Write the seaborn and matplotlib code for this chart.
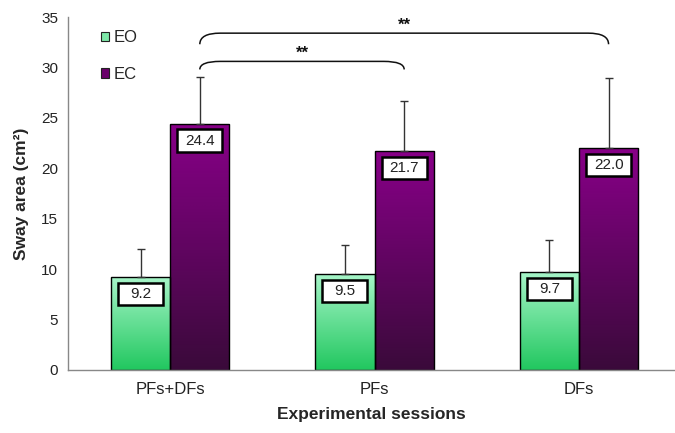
import numpy as np
import pandas as pd
import matplotlib
matplotlib.use("Agg")
import matplotlib.pyplot as plt
import seaborn as sns
from matplotlib.patches import Patch, Rectangle, PathPatch
from matplotlib.path import Path
from matplotlib.colors import LinearSegmentedColormap

# Data
sessions = ["PFs+DFs", "PFs", "DFs"]
conditions = ["EO", "EC"]
eo_means = [9.2, 9.5, 9.7]
ec_means = [24.4, 21.7, 22.0]
eo_sd = [2.8, 2.9, 3.2]
ec_sd = [4.7, 5.0, 7.0]

df = pd.DataFrame({
    "session": sessions * 2,
    "condition": ["EO"] * 3 + ["EC"] * 3,
    "area": eo_means + ec_means,
})

sns.set_style("white")
plt.rcParams["font.family"] = ["Liberation Sans", "DejaVu Sans"]

fig = plt.figure(figsize=(6.75, 4.33), dpi=100)
ax = fig.add_axes([0.1007, 0.1455, 0.8993, 0.8152])

sns.barplot(data=df, x="session", y="area", hue="condition", order=sessions,
            hue_order=conditions, width=0.58, errorbar=None, ax=ax,
            palette=["#7de8a8", "#6a006a"], edgecolor="black", linewidth=1.0,
            legend=False)

# gradient colours per condition (bottom -> top)
grads = {
    "EO": LinearSegmentedColormap.from_list("eo", ["#21c75f", "#a6f5c8"]),
    "EC": LinearSegmentedColormap.from_list("ec", ["#3a0a3a", "#880088"]),
}
grad = np.linspace(0, 1, 256).reshape(-1, 1)

bars = ax.patches[:6]
means = eo_means + ec_means
sds = eo_sd + ec_sd
conds = ["EO"] * 3 + ["EC"] * 3
box_w, box_h = 0.22, 2.2
for bar, m, sd, c in zip(bars, means, sds, conds):
    x0 = bar.get_x()
    w = bar.get_width()
    h = bar.get_height()
    im = ax.imshow(grad, cmap=grads[c], aspect="auto", origin="lower",
                   extent=[x0, x0 + w, 0, h], zorder=bar.get_zorder() - 0.1)
    im.set_clip_path(bar)
    bar.set_facecolor("none")
    xc = x0 + w / 2
    ax.errorbar(xc, h, yerr=[[0], [sd]], fmt="none", ecolor="#333333",
                elinewidth=1.0, capsize=3, capthick=1.0, zorder=1)
    # value box
    top = h - 0.55
    ax.add_patch(Rectangle((xc - box_w / 2, top - box_h), box_w, box_h,
                           fc="white", ec="black", lw=1.8, zorder=5))
    ax.text(xc, top - box_h / 2, f"{m:.1f}", ha="center", va="center",
            fontsize=11, color="#222222", zorder=6)

ax.set_xlim(-0.5, 2.47)
ax.set_ylim(0, 35)
ax.set_yticks(range(0, 36, 5))
ax.tick_params(axis="y", direction="out", length=4, color="#888888", labelsize=11,
               labelcolor="#222222", pad=3)
ax.tick_params(axis="x", length=0, labelsize=12, labelcolor="#222222", pad=9)
for side in ["top", "right"]:
    ax.spines[side].set_visible(False)
for side in ["left", "bottom"]:
    ax.spines[side].set_color("#888888")
    ax.spines[side].set_linewidth(1.0)

ax.set_xlabel("Experimental sessions", fontsize=12.5, fontweight="bold", labelpad=7)
ax.set_ylabel("Sway area (cm²)", fontsize=12.5, fontweight="bold", labelpad=9)

# significance brackets
def bracket(x1, x2, y, drop, label, lx):
    dx = 0.1
    verts = [(x1, y - drop), (x1, y), (x1 + dx, y), (x2 - dx, y),
             (x2, y), (x2, y - drop)]
    codes = [Path.MOVETO, Path.CURVE3, Path.CURVE3, Path.LINETO,
             Path.CURVE3, Path.CURVE3]
    ax.add_patch(PathPatch(Path(verts, codes), fill=False, lw=1.1, color="#111111"))
    ax.text(lx, y + 0.05, label, ha="center", va="bottom", fontsize=12,
            fontweight="bold", color="#111111")

ec_x = [b.get_x() + b.get_width() / 2 for b in bars[3:]]
bracket(ec_x[0], ec_x[1], 30.6, 0.8, "**", (ec_x[0] + ec_x[1]) / 2)
bracket(ec_x[0], ec_x[2], 33.4, 1.1, "**", (ec_x[0] + ec_x[2]) / 2)

handles = [Patch(facecolor="#7de8a8", edgecolor="#222222", lw=0.8),
           Patch(facecolor="#6a006a", edgecolor="#222222", lw=0.8)]
ax.legend(handles, conditions, loc="upper left", bbox_to_anchor=(0.035, 0.995),
          frameon=False, handlelength=0.5, handleheight=0.5, handletextpad=0.25,
          labelspacing=1.3, fontsize=12, borderaxespad=0.3)

fig.savefig("out.png", dpi=100)
